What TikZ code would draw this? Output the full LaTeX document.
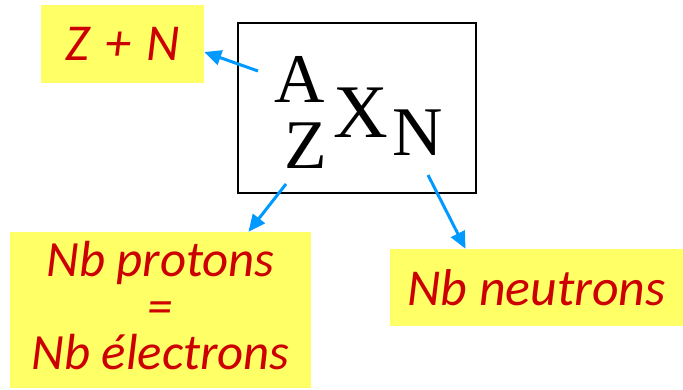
\documentclass[tikz,border=0pt]{standalone}
\usepackage{fontspec}
\setmainfont{Carlito}
\newfontfamily\nucfont{Liberation Serif}
\usetikzlibrary{arrows.meta}
\definecolor{hlyellow}{RGB}{255,255,102}
\definecolor{txtred}{RGB}{204,0,0}
\definecolor{arrblue}{RGB}{0,153,255}

\begin{document}
\begin{tikzpicture}[x=1bp, y=-1bp,
    labelbox/.style={fill=hlyellow, inner sep=0pt, text=txtred,
      font=\fontsize{52}{52}\selectfont\itshape},
    labeltext/.style={inner sep=0pt, text=txtred, anchor=base,
      font=\fontsize{51}{51}\selectfont\itshape},
    nuc/.style={font=\nucfont\fontsize{70}{70}\selectfont, inner sep=0pt, anchor=base},
    pointer/.style={draw=arrblue, line width=3bp, -{Triangle[length=17bp,width=15bp]}}]
        \useasboundingbox (0,0) rectangle (683,389);

        % the nuclide
        \node[draw, line width=1.8bp, minimum width=238bp, minimum height=170bp] (nucl) at (357,108) {};
        \node[nuc] (A) at (300,102) {A};
        \node[nuc] (Z) at (306,168) {Z};
        \node[nuc, font=\nucfont\fontsize{76}{76}\selectfont] (X) at (361,137) {X};
        \node[nuc] (N) at (418,155) {N};

        % the labels
        \node[labelbox, minimum width=163bp, minimum height=78bp] (zn) at (122.5,44)
            {Z\hspace{0.3em}+\hspace{0.3em}N};
        \node[labelbox, minimum width=301bp, minimum height=156bp] (prot) at (160.5,310) {};
        \node[labeltext] (prot1) at (160.5,276) {Nb protons};
        \node[labeltext] (prot2) at (160.5,323) {=};
        \node[labeltext] (prot3) at (160.5,369) {Nb électrons};
        \node[labelbox, minimum width=293bp, minimum height=77bp] (neut) at (536.5,287.5) {Nb neutrons};

        \coordinate (fromA) at (258,71);
        \coordinate (fromZ) at (286,184);
        \coordinate (fromN) at (428,175);

        \draw[pointer] (fromA) -- ([yshift=-8bp]zn.east);
        \draw[pointer] (fromZ) -- ([xshift=88bp]prot.north);
        \draw[pointer] (fromN) -- ([xshift=-71bp]neut.north);
\end{tikzpicture}
\end{document}
